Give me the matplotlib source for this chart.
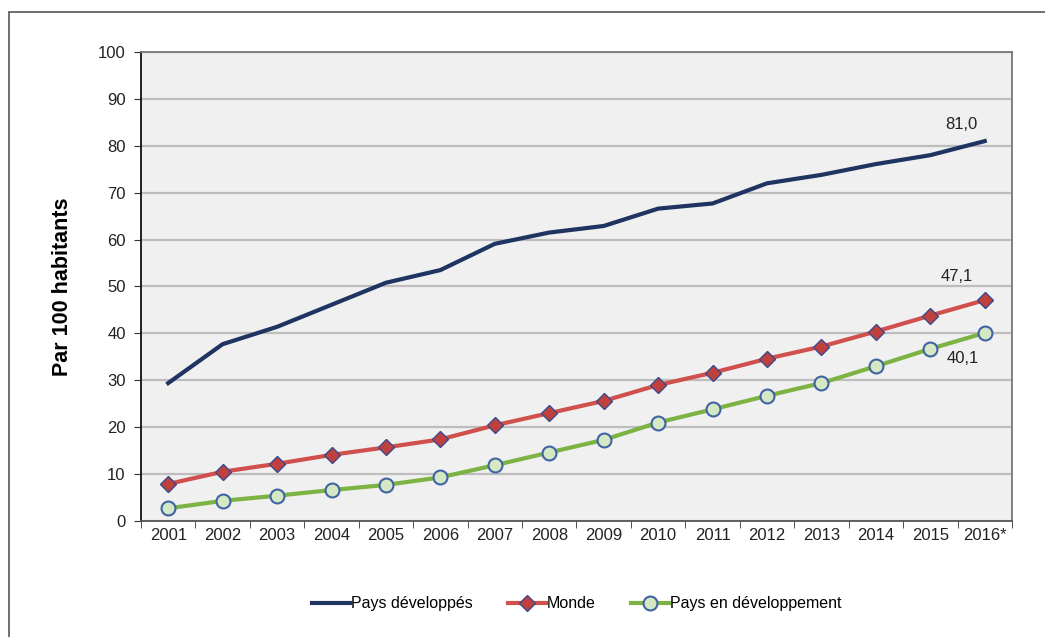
import matplotlib
matplotlib.use("Agg")
import matplotlib.pyplot as plt
from matplotlib.patches import Rectangle

plt.rcParams['font.family'] = ['Liberation Sans', 'DejaVu Sans']

# Data
years = ['2001', '2002', '2003', '2004', '2005', '2006', '2007', '2008',
         '2009', '2010', '2011', '2012', '2013', '2014', '2015', '2016*']
developpes = [29.4, 37.7, 41.4, 46.1, 50.8, 53.5, 59.1, 61.5,
              62.9, 66.6, 67.7, 72.0, 73.8, 76.1, 78.0, 81.0]
monde = [7.9, 10.5, 12.2, 14.1, 15.7, 17.4, 20.4, 23.0,
         25.6, 29.0, 31.6, 34.6, 37.2, 40.4, 43.8, 47.1]
en_dev = [2.7, 4.3, 5.4, 6.6, 7.7, 9.3, 11.9, 14.6,
          17.3, 21.0, 23.8, 26.7, 29.4, 33.0, 36.7, 40.1]
end_labels = ['81,0', '47,1', '40,1']

x = list(range(len(years)))

fig = plt.figure(figsize=(10.45, 6.37), dpi=100)
ax = fig.add_axes([0.1349, 0.1821, 0.8335, 0.7363])

# outer frame of the chart
fig.patches.append(Rectangle((9 / 1045, -0.05), 1.1, 1 - 12 / 637 + 0.05,
                             transform=fig.transFigure, fill=False,
                             edgecolor='#555555', linewidth=1.2))

ax.set_facecolor('#F0F0F0')
ax.set_xlim(-0.5, len(years) - 0.5)
ax.set_ylim(0, 100)
ax.set_yticks(range(0, 101, 10))
ax.grid(axis='y', color='#BDBDBD', linewidth=1.6)
ax.set_axisbelow(True)

ax.plot(x, developpes, color='#1F3461', linewidth=3, label='Pays développés')
ax.plot(x, monde, color='#D0504D', linewidth=3, marker='D', markersize=8,
        markerfacecolor='#C0403D', markeredgecolor='#3A4A8C', markeredgewidth=1,
        label='Monde')
ax.plot(x, en_dev, color='#7CB342', linewidth=3, marker='o', markersize=10,
        markerfacecolor='#D4E8C4', markeredgecolor='#3F63A3', markeredgewidth=1.5,
        label='Pays en développement')

last = len(years) - 1
ax.annotate(end_labels[0], (last, developpes[-1]), xytext=(-17, 9),
            textcoords='offset points', fontsize=12, color='#222222', ha='center')
ax.annotate(end_labels[1], (last, monde[-1]), xytext=(-20, 14),
            textcoords='offset points', fontsize=12, color='#222222', ha='center')
ax.annotate(end_labels[2], (last, en_dev[-1]), xytext=(-16, -22),
            textcoords='offset points', fontsize=12, color='#222222', ha='center')

# category axis: labels at centres, ticks at boundaries
ax.set_xticks(x)
ax.set_xticklabels(years, fontsize=12, color='#222222')
ax.tick_params(axis='x', which='major', length=0, pad=5)
ax.set_xticks([i - 0.5 for i in range(len(years) + 1)], minor=True)
ax.tick_params(axis='x', which='minor', length=5, direction='out', color='#333333')
ax.tick_params(axis='y', length=5, direction='out', labelsize=12,
               labelcolor='#222222', color='#333333', pad=6)

ax.spines['left'].set_color('#111111')
ax.spines['bottom'].set_color('#555555')
for s in ['top', 'right']:
    ax.spines[s].set_color('#777777')
for s in ax.spines.values():
    s.set_linewidth(1.3)

ax.set_ylabel('Par 100 habitants', fontsize=15.5, fontweight='bold', labelpad=18)

ax.legend(loc='upper center', bbox_to_anchor=(0.5, -0.13), ncol=3, frameon=False,
          fontsize=11.5, handlelength=2.4, handletextpad=0.05, columnspacing=2.2)

fig.savefig('out.png', dpi=100)
